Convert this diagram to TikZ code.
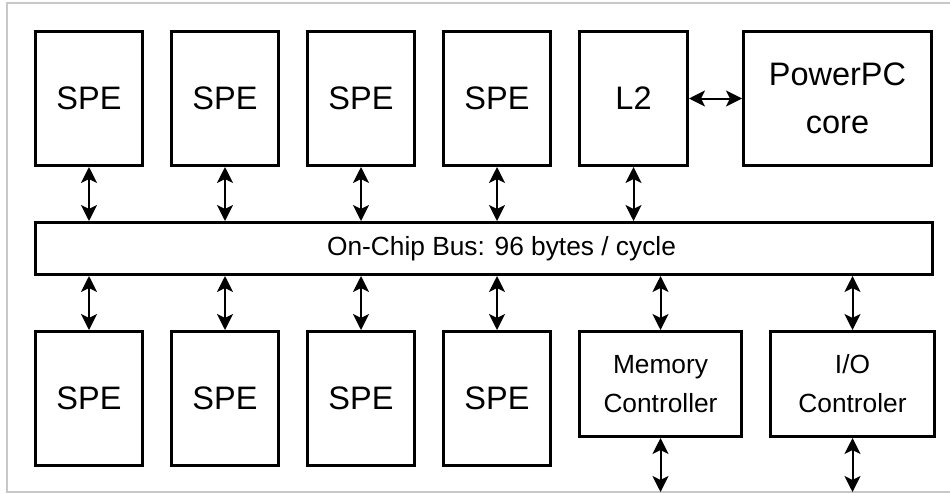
\documentclass[tikz,border=0pt]{standalone}
\usepackage{fontspec}
\setmainfont{Liberation Sans}
\usetikzlibrary{arrows.meta}
\begin{document}
\begin{tikzpicture}[x=1pt,y=-1pt,
  blk/.style={draw=black, line width=3pt, fill=white, inner sep=0pt, align=center},
  big/.style={font=\fontsize{32.5}{48}\selectfont},
  small/.style={font=\fontsize{26.3}{39}\selectfont},
  spebox/.style={blk, big, minimum width=107pt, minimum height=134pt},
  link/.style={line width=2pt, {Stealth[length=16pt 0 0,width=16pt 0 0,inset=4pt 0]}-{Stealth[length=16pt 0 0,width=16pt 0 0,inset=4pt 0]}}
]
\useasboundingbox (0,0) rectangle (950,493);
\draw[line width=2pt, color={rgb,255:red,200;green,200;blue,200}] (960,3) -- (7,3) -- (7,492) -- (960,492);

% top row
\node[spebox] (t1) at (89,98.5) {SPE};
\node[spebox] (t2) at (225,98.5) {SPE};
\node[spebox] (t3) at (361,98.5) {SPE};
\node[spebox] (t4) at (497,98.5) {SPE};
\node[spebox, minimum width=108pt] (l2) at (633.5,98.5) {L2};
\node[blk, big, minimum width=188pt, minimum height=134pt] (ppc) at (837.5,98.5) {PowerPC\\core};

% bus
\node[blk, small, minimum width=897pt, minimum height=52pt] (bus) at (484,248.5) {\hspace*{35pt}On-Chip Bus: 96 bytes / cycle};

% bottom row
\node[spebox] (b1) at (89,398.5) {SPE};
\node[spebox] (b2) at (225,398.5) {SPE};
\node[spebox] (b3) at (361,398.5) {SPE};
\node[spebox] (b4) at (497,398.5) {SPE};
\node[blk, small, minimum width=162pt, minimum height=105pt] (mem) at (660.5,384) {Memory\\Controller};
\node[blk, small, minimum width=164pt, minimum height=105pt] (io) at (852.5,384) {I/O\\Controler};

\coordinate (memout) at (660.5,492);
\coordinate (ioout) at (852.5,492);

% connectors
\draw[link] (l2) -- (ppc);
\foreach \n in {t1,t2,t3,t4,l2}{
  \draw[link] (\n.south) -- (\n.south |- bus.north);
}
\foreach \n in {b1,b2,b3,b4,mem,io}{
  \draw[link] (\n.north |- bus.south) -- (\n.north);
}
\draw[link] (mem.south) -- (memout);
\draw[link] (io.south) -- (ioout);
\end{tikzpicture}
\end{document}
